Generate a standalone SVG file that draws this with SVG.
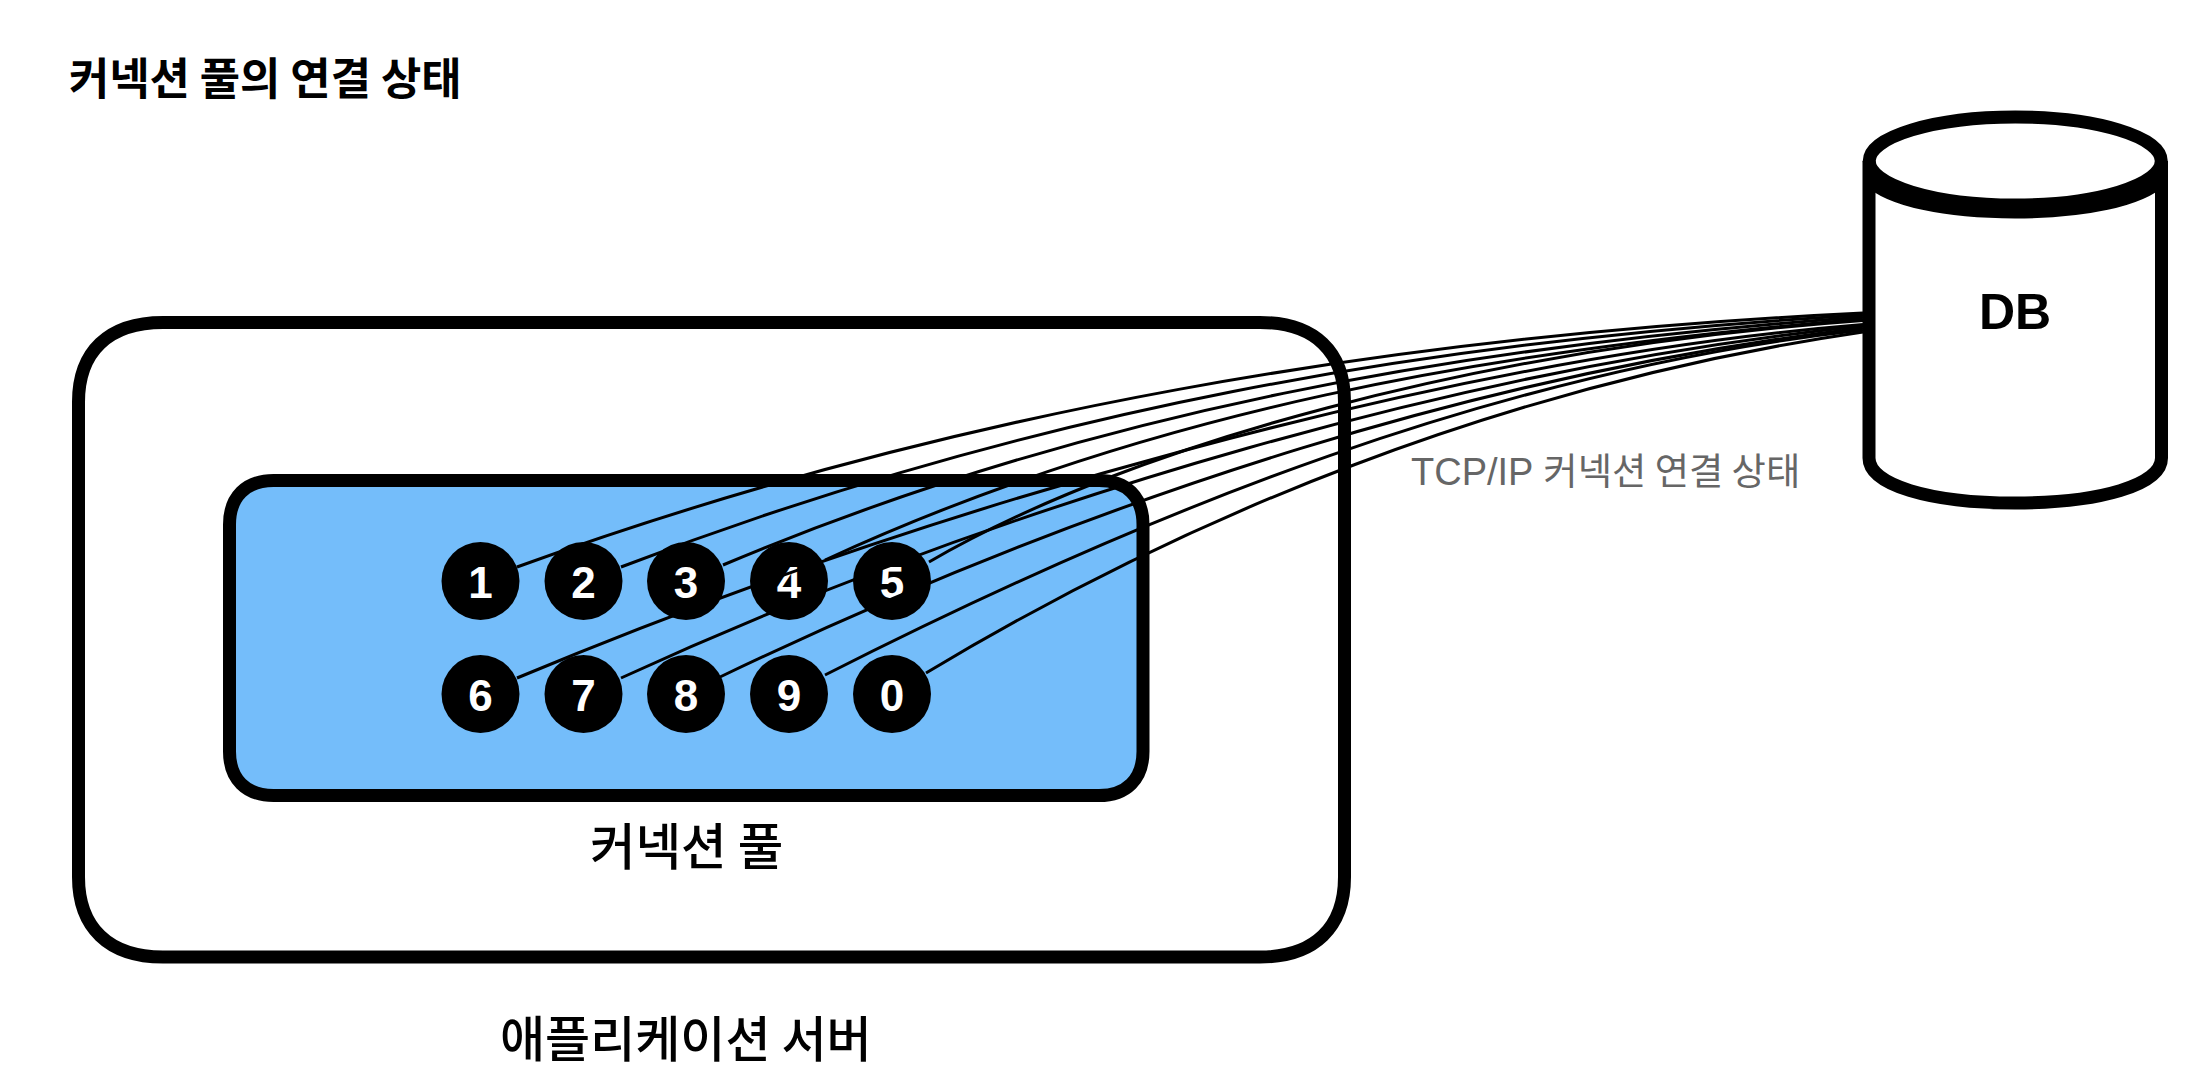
<svg xmlns="http://www.w3.org/2000/svg" width="2198" height="1086" viewBox="0 0 2198 1086">
<style>
.box{stroke:#000;stroke-width:13;fill:#fff}
.pool{fill:#74bdfa}
.db{fill:none;stroke:#000;stroke-width:13}
.c path{fill:none;stroke:#000;stroke-width:3}
.k{font-family:"Noto Sans CJK KR",sans-serif;font-weight:500;fill:#000}
.t{font-weight:700}
.n{font-family:"Liberation Sans",Arial,sans-serif;font-weight:700;font-size:44px;fill:#fff;text-anchor:middle}
circle{fill:#000}
</style>
<rect width="2198" height="1086" fill="#fff"/>
<text id="title" class="k t" x="69" y="95" font-size="43.800">커넥션 풀의 연결 상태</text>
<g id="server">
<path class="box" d="M78.500 402C78.500 352 108 322.500 163 322.500H1260C1315 322.500 1344.500 352 1344.500 402V877C1344.500 927 1315 957 1260 957H163C108 957 78.500 927 78.500 877Z"/>
<text class="k" x="500" y="1057" font-size="49">애플리케이션 서버</text>
</g>
<g id="pool">
<path class="box pool" d="M229.500 524.500C229.500 497 246 480.500 273.500 480.500H1099C1126.500 480.500 1143 497 1143 524.500V751.500C1143 779 1126.500 795.500 1099 795.500H273.500C246 795.500 229.500 779 229.500 751.500Z"/>
<text class="k" x="590" y="865" font-size="49.500">커넥션 풀</text>
</g>
<g id="db">
<path d="M1869 161V458C1869 485 1930 503 2015 503C2100 503 2161.500 485 2161.500 458V161" fill="#fff" stroke="#000" stroke-width="13"/>
<ellipse class="db" cx="2015.250" cy="161" rx="146" ry="44"/>
<path class="db" d="M1869 180C1890 200 1945 212 2015 212C2085 212 2140 200 2161.500 180"/>
<text x="2015" y="329" font-family="'Liberation Sans',Arial,sans-serif" font-weight="700" font-size="50" text-anchor="middle">DB</text>
</g>
<g id="node1"><circle cx="480.500" cy="581" r="39"/><text class="n" x="480.500" y="598">1</text></g>
<g id="node2"><circle cx="583.500" cy="581" r="39"/><text class="n" x="583.500" y="598">2</text></g>
<g id="node3"><circle cx="686" cy="581" r="39"/><text class="n" x="686" y="598">3</text></g>
<g id="node4"><circle cx="789" cy="581" r="39"/><text class="n" x="789" y="598">4</text></g>
<g id="node5"><circle cx="892" cy="581" r="39"/><text class="n" x="892" y="598">5</text></g>
<g id="node6"><circle cx="480.500" cy="694" r="39"/><text class="n" x="480.500" y="711">6</text></g>
<g id="node7"><circle cx="583.500" cy="694" r="39"/><text class="n" x="583.500" y="711">7</text></g>
<g id="node8"><circle cx="686" cy="694" r="39"/><text class="n" x="686" y="711">8</text></g>
<g id="node9"><circle cx="789" cy="694" r="39"/><text class="n" x="789" y="711">9</text></g>
<g id="node0"><circle cx="892" cy="694" r="39"/><text class="n" x="892" y="711">0</text></g>
<g id="connectors" class="c">
<path d="M517 567C950 410 1400 335 1863 313"/>
<path d="M621 567C1030 410 1430 340 1863 315"/>
<path d="M723 565C1090 410 1470 345 1863 317"/>
<path d="M825 560C1150 410 1490 350 1863 319"/>
<path d="M929 562C1130 445 1480 348 1863 320.500"/>
<path d="M517 678C930 505 1450 358 1863 324.500"/>
<path d="M621 678C1020 495 1480 365 1863 326"/>
<path d="M720 677C1110 490 1500 370 1863 328"/>
<path d="M825 675C1150 510 1500 370 1863 330"/>
<path d="M926 673C1180 520 1500 385 1863 332"/>
</g>
<text id="tcp" x="1411" y="485" font-family="'Liberation Sans','Noto Sans CJK KR',sans-serif" font-size="38" fill="#666">TCP/IP <tspan font-family="'Noto Sans CJK KR',sans-serif" font-size="37.300">커넥션 연결 상태</tspan></text>
</svg>
